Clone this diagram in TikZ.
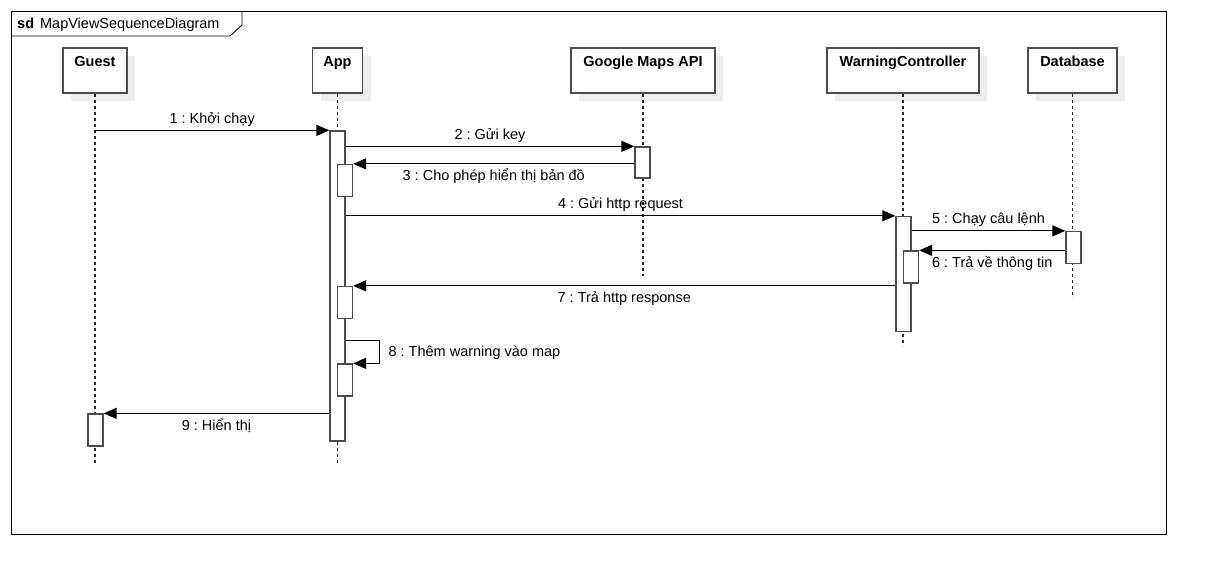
\documentclass[tikz,border=0pt]{standalone}
\usepackage{fontspec}
\setmainfont{Liberation Sans}
\usetikzlibrary{%
	arrows.meta,%
	calc,%
	shadows
}
\newcommand{\sdfont}{\fontsize{14.5}{17}\selectfont\frenchspacing}

\begin{document}
\begin{tikzpicture}[x=1pt,y=-1pt,font=\sdfont,
	head/.style={draw=black!70,line width=1.3pt,fill=white,minimum height=45pt,inner sep=0pt,
		drop shadow={shadow xshift=8pt,shadow yshift=-7.5pt,fill=black!7,opacity=1}},
	headtext/.style={anchor=base,yshift=-19pt,font=\sdfont\bfseries},
	act/.style={draw=black!70,line width=1.3pt,fill=white,minimum width=15pt,inner sep=0pt},
	lifeline/.style={black!85,line width=1.2pt,dash pattern=on 3pt off 3pt},
	msg/.style={line width=1.2pt,-{Triangle[length=13pt,width=11pt]}},
	lbl/.style={text height=13pt,text depth=3pt,inner sep=3.33pt}]
	\useasboundingbox (0,0) rectangle (1212,579);
	\draw[line width=0.9pt] (11,11) rectangle (1166,534);
	\draw[line width=0.9pt] (11,36) -- (230,36) -- (242,25) -- (242,11);
	\node[anchor=base west,inner sep=0pt] (title) at (17,28) {\textbf{sd}\hspace{6pt}MapViewSequenceDiagram};
	
	\node[head,minimum width=64pt,label={[headtext]north:Guest}] (guest) at (95,70.5) {};
	\node[head,minimum width=50pt,label={[headtext]north:App}] (app) at (337.5,70.5) {};
	\node[head,minimum width=144pt,label={[headtext]north:Google Maps API}] (gmaps) at (643,70.5) {};
	\node[head,minimum width=152pt,label={[headtext]north:WarningController}] (wctrl) at (903,70.5) {};
	\node[head,minimum width=89pt,label={[headtext]north:Database}] (db) at (1072.5,70.5) {};
	
	\foreach \n/\l in {guest/369,app/369,gmaps/182,wctrl/252,db/204}
		\draw[lifeline] (\n.south) -- ++(0,\l);
	
	\node[act,minimum height=310pt] (appA) at (337.5,286) {};
	\node[act,minimum height=32pt] (appB) at (345,180.5) {};
	\node[act,minimum height=32pt] (appC) at (345,302.5) {};
	\node[act,minimum height=32pt] (appD) at (345,380) {};
	\node[act,minimum height=31pt] (gmA) at (642.5,162.5) {};
	\node[act,minimum height=115pt] (wcA) at (903.5,274) {};
	\node[act,minimum height=32pt] (wcB) at (911,267) {};
	\node[act,minimum height=32pt] (dbA) at (1073.5,247.5) {};
	\node[act,minimum height=32pt] (guA) at (95.5,430) {};
	
	\draw[msg] (guest.south |- appA.north) -- (appA.north west) node[midway,above,lbl] {1 : Khởi chạy};
	\draw[msg] (appA.east |- gmA.north) -- (gmA.north west) node[midway,above,lbl] {2 : Gửi key};
	\draw[msg] (gmA.west |- appB.north) -- (appB.north east) node[midway,below,lbl] {3 : Cho phép hiển thị bản đồ};
	\draw[msg] (appA.east |- wcA.north) -- (wcA.north west) node[midway,above,lbl] {4 : Gửi http request};
	\draw[msg] (wcA.east |- dbA.north) -- (dbA.north west) node[midway,above,lbl] {5 : Chạy câu lệnh};
	\draw[msg] (dbA.west |- wcB.north) -- (wcB.north east) node[midway,below,lbl] {6 : Trả về thông tin};
	\draw[msg] (wcA.west |- appC.north) -- (appC.north east) node[midway,below,lbl] {7 : Trả http response};
	\coordinate (selfs) at ([yshift=23pt]appD.north -| appA.east);
	\draw[msg] (selfs) -- ++(34,0) |- (appD.north east) node[pos=0.25,right=5pt,lbl] {8 : Thêm warning vào map};
	\draw[msg] (appA.west |- guA.north) -- (guA.north east) node[midway,below,lbl] {9 : Hiển thị};
\end{tikzpicture}
\end{document}
